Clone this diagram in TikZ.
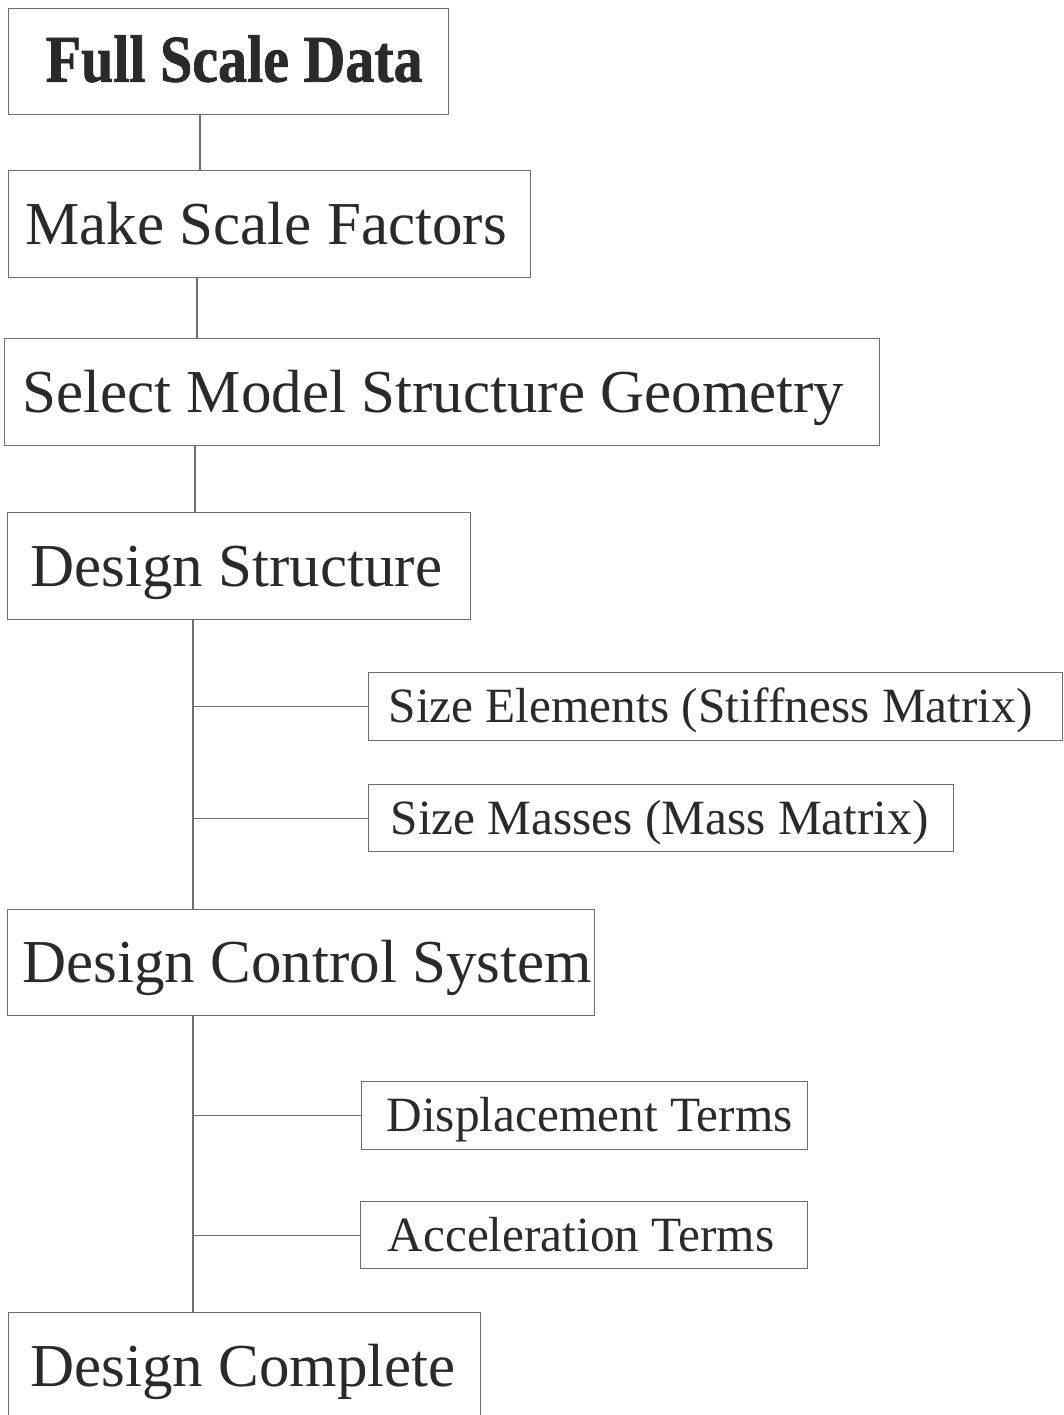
\documentclass[tikz,border=0pt]{standalone}
\usepackage{fontspec}
\setmainfont{Liberation Serif}
\newfontfamily\heavyfont[FakeBold=1.2]{Liberation Serif Bold}
\definecolor{ink}{HTML}{2A2A2A}
\definecolor{edge}{HTML}{6E6E6E}
\newcommand{\boxtext}[2]{\makebox[#1][l]{#2}}
\tikzset{
  box/.style={draw=edge, line width=1.3pt, anchor=north west, inner ysep=0pt,
    text=ink, text depth=0pt},
  bigbox/.style={box, minimum height=107pt, font=\fontsize{61}{61}\selectfont, text height=40pt},
  smallbox/.style={box, minimum height=68pt, font=\fontsize{49.3}{49.3}\selectfont, text height=32pt},
  link/.style={draw=edge, line width=1.3pt}
}
\begin{document}
\begin{tikzpicture}[x=1pt,y=-1pt]
\useasboundingbox (0,0) rectangle (1064,1415);
\fill[white] (0,0) rectangle (1064,1415);
\clip (0,0) rectangle (1064,1415);
\node[box, minimum height=106pt, inner xsep=37pt, text height=40pt,
  font=\heavyfont\fontsize{58}{58}\selectfont] (fsd) at (8,8) {\boxtext{366pt}{\scalebox{1}[1.15]{Full Scale Data}}};
\node[bigbox, inner xsep=17pt] (msf) at (8,170) {\boxtext{488pt}{Make Scale Factors}};
\node[bigbox, inner xsep=18pt] (smg) at (4,338) {\boxtext{839pt}{Select Model Structure Geometry}};
\node[bigbox, inner xsep=23pt] (ds) at (7,512) {\boxtext{417pt}{Design Structure}};
\node[smallbox, inner xsep=20pt] (se) at (368,672) {\boxtext{654pt}{Size Elements (Stiffness Matrix)}};
\node[smallbox, minimum height=67pt, inner xsep=22pt] (sm) at (368,784) {\boxtext{541pt}{Size Masses (Mass Matrix)}};
\node[bigbox, minimum height=106pt, inner xsep=15pt] (dcs) at (7,909) {\boxtext{557pt}{Design Control System}};
\node[smallbox, inner xsep=25pt] (dt) at (361,1081) {\boxtext{396pt}{Displacement Terms}};
\node[smallbox, minimum height=67pt, inner xsep=27pt] (at) at (360,1201) {\boxtext{393pt}{Acceleration Terms}};
\node[bigbox, inner xsep=22pt] (dc) at (8,1312) {\boxtext{428pt}{Design Complete}};

\coordinate (c1) at (200,0);
\coordinate (c2) at (197,0);
\coordinate (c3) at (195,0);
\coordinate (c4) at (193,0);
\draw[link] (fsd.south -| c1) -- (msf.north -| c1);
\draw[link] (msf.south -| c2) -- (smg.north -| c2);
\draw[link] (smg.south -| c3) -- (ds.north -| c3);
\draw[link] (ds.south -| c4) -- (dcs.north -| c4);
\draw[link] (se.west -| c4) -- (se.west);
\draw[link] (sm.west -| c4) -- (sm.west);
\draw[link] (dcs.south -| c4) -- (dc.north -| c4);
\draw[link] (dt.west -| c4) -- (dt.west);
\draw[link] (at.west -| c4) -- (at.west);
\end{tikzpicture}
\end{document}
